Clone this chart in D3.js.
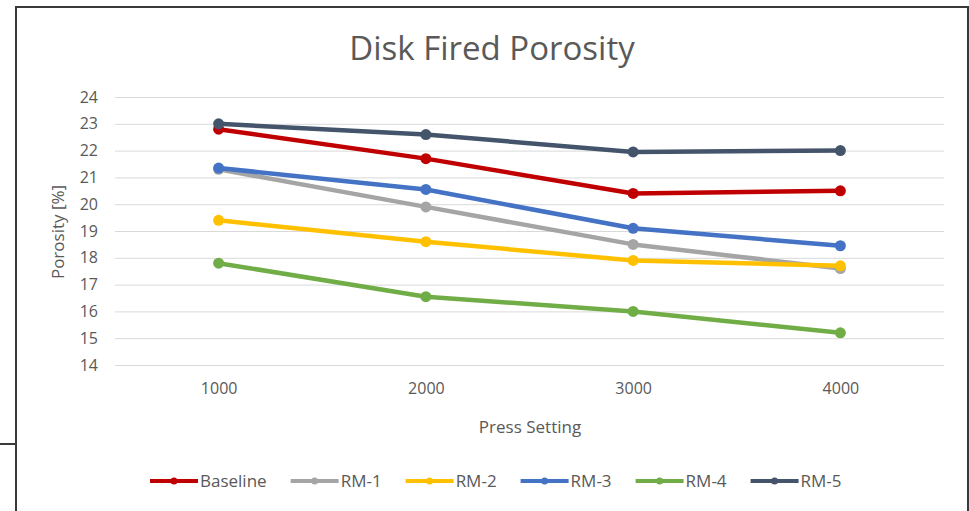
<!DOCTYPE html>
<html>
<head>
<meta charset="utf-8">
<script src="https://cdn.jsdelivr.net/npm/d3@7"></script>
<style>
  body { margin: 0; background: #fff; }
  text { font-family: "Open Sans", "Noto Sans", sans-serif; fill: #595959; }
</style>
</head>
<body>
<div id="area"></div>
<script>
// data
var pressSettings = ["1000", "2000", "3000", "4000"];
var seriesNames = ["Baseline", "RM-1", "RM-2", "RM-3", "RM-4", "RM-5"];
var baseline = [22.8, 21.7, 20.4, 20.5];
var rm1 = [21.3, 19.9, 18.5, 17.6];
var rm2 = [19.4, 18.6, 17.9, 17.7];
var rm3 = [21.35, 20.55, 19.1, 18.45];
var rm4 = [17.8, 16.55, 16.0, 15.2];
var rm5 = [23.0, 22.6, 21.95, 22.0];
var yTicks = [14, 15, 16, 17, 18, 19, 20, 21, 22, 23, 24];
var colors = ["#c00000", "#a5a5a5", "#ffc000", "#4472c4", "#70ad47", "#44546a"];

var series = [baseline, rm1, rm2, rm3, rm4, rm5].map(function(vals, i) {
  return {name: seriesNames[i], color: colors[i], values: vals};
});

var W = 969, H = 511;
var plot = {left: 115, right: 944, top: 97, bottom: 365};

var svg = d3.select('#area').append('svg')
  .attr('width', W)
  .attr('height', H);

// frame around the chart
svg.append('path')
  .attr('d', 'M16,511 L16,7 L968,7 L968,511')
  .attr('fill', 'none')
  .attr('stroke', '#3a3a3a')
  .attr('stroke-width', 2);
svg.append('line')
  .attr('x1', 0).attr('x2', 16)
  .attr('y1', 444).attr('y2', 444)
  .attr('stroke', '#3a3a3a')
  .attr('stroke-width', 2);

var x = d3.scalePoint()
  .domain(pressSettings)
  .range([plot.left, plot.right])
  .padding(0.5);

var y = d3.scaleLinear()
  .domain([14, 24])
  .range([plot.bottom, plot.top]);

// gridlines + y labels
var yAxis = d3.axisLeft(y)
  .tickValues(yTicks)
  .tickSize(-(plot.right - plot.left))
  .tickPadding(17)
  .tickFormat(d3.format('d'));

var gy = svg.append('g')
  .attr('class', 'yaxis')
  .attr('transform', 'translate(' + plot.left + ',0)')
  .call(yAxis);
gy.select('.domain').remove();
gy.selectAll('line').attr('stroke', '#d9d9d9').attr('stroke-width', 1);
gy.selectAll('text').style('font-size', '16px').attr('fill', '#595959');

var xAxis = d3.axisBottom(x).tickSize(0).tickPadding(18);
var gx = svg.append('g')
  .attr('class', 'xaxis')
  .attr('transform', 'translate(0,' + plot.bottom + ')')
  .call(xAxis);
gx.select('.domain').remove();
gx.selectAll('text').style('font-size', '16px').attr('fill', '#595959');

// titles
svg.append('text')
  .attr('x', 492).attr('y', 60)
  .attr('text-anchor', 'middle')
  .style('font-size', '33px')
  .text('Disk Fired Porosity');

svg.append('text')
  .attr('x', 530).attr('y', 433)
  .attr('text-anchor', 'middle')
  .style('font-size', '17px')
  .text('Press Setting');

svg.append('text')
  .attr('transform', 'translate(58,232) rotate(-90)')
  .attr('text-anchor', 'middle')
  .attr('dy', '0.35em')
  .style('font-size', '17px')
  .text('Porosity [%]');

// lines
var line = d3.line()
  .x(function(d, i) { return x(pressSettings[i]); })
  .y(function(d) { return y(d); });

var groups = svg.selectAll('.series')
  .data(series)
  .enter().append('g')
  .attr('class', 'series');

groups.append('path')
  .attr('d', function(d) { return line(d.values); })
  .attr('fill', 'none')
  .attr('stroke', function(d) { return d.color; })
  .attr('stroke-width', 4.5)
  .attr('stroke-linejoin', 'round');

groups.selectAll('circle')
  .data(function(d) { return d.values.map(function(v, i) { return {v: v, i: i, color: d.color}; }); })
  .enter().append('circle')
  .attr('cx', function(d) { return x(pressSettings[d.i]); })
  .attr('cy', function(d) { return y(d.v); })
  .attr('r', 5.5)
  .attr('fill', function(d) { return d.color; });

// legend
var legend = svg.append('g').attr('class', 'legend');
var lx = 150, ly = 481;
series.forEach(function(s) {
  var item = legend.append('g').attr('transform', 'translate(' + lx + ',' + ly + ')');
  item.append('line')
    .attr('x1', 0).attr('x2', 48)
    .attr('stroke', s.color)
    .attr('stroke-width', 4);
  item.append('circle')
    .attr('cx', 24).attr('r', 3.5)
    .attr('fill', s.color);
  var t = item.append('text')
    .attr('x', 50).attr('dy', '0.35em')
    .style('font-size', '17px')
    .text(s.name);
  lx += 50 + t.node().getComputedTextLength() + 24;
});
</script>
</body>
</html>
